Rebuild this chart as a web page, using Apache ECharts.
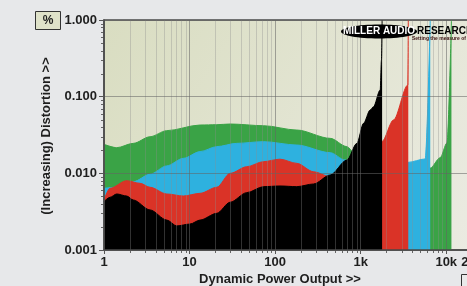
<!DOCTYPE html>
<html>
<head>
<meta charset="utf-8">
<script src="https://cdn.jsdelivr.net/npm/echarts@6/dist/echarts.min.js"></script>
<style>
  html, body { margin: 0; padding: 0; background: #e7e8ea; }
  #main { width: 467px; height: 286px; }
</style>
</head>
<body>
<div id="main"></div>
<script>
// [power (W), distortion (%)]
var greenData = [[1, 0.0239], [1.41, 0.0216], [2.2, 0.0246], [3.45, 0.030], [5.41, 0.0360], [13.3, 0.0427],
	[20.8, 0.0431], [29.8, 0.0440], [73, 0.0418], [179, 0.0367], [440, 0.0286], [690, 0.0223], [817, 0.0192],
	[1200, 0.015], [2500, 0.012], [6500, 0.0117], [8500, 0.016], [10200, 0.0249], [11500, 1.0]];
var cyanData = [[1, 0.00638], [1.41, 0.00658], [2.2, 0.00778], [3.45, 0.00972], [5.41, 0.0125], [8.46, 0.0157],
	[13.3, 0.0192], [20.8, 0.0223], [35.6, 0.0246], [73, 0.0259], [179, 0.0234], [440, 0.0186], [659, 0.0149],
	[1000, 0.013], [2000, 0.0125], [3560, 0.0139], [5680, 0.0154], [6500, 1.0]];
var redData = [[1, 0.00449], [1.175, 0.00638], [1.84, 0.00802], [2.64, 0.00741], [3.45, 0.00658], [5.41, 0.00538],
	[8.46, 0.00506], [13.3, 0.00549], [20.8, 0.00658], [29.8, 0.0100], [46.7, 0.0122], [73, 0.0142], [114, 0.0153],
	[179, 0.0135], [281, 0.0105], [440, 0.00904], [700, 0.011], [1200, 0.018], [1770, 0.0259], [2420, 0.0497],
	[3560, 0.142], [3600, 1.0]];
var blackData = [[1, 0.00427], [1.175, 0.00487], [1.41, 0.00538], [1.84, 0.00506], [2.2, 0.00449], [3.45, 0.00333],
	[5.41, 0.00246], [7.08, 0.00206], [10.1, 0.00218], [13.3, 0.00246], [20.8, 0.00301], [29.8, 0.0042],
	[46.7, 0.0056], [73, 0.0067], [114, 0.00684], [179, 0.0067], [281, 0.00726], [440, 0.00951], [690, 0.0149],
	[903, 0.0246], [1079, 0.0449], [1291, 0.067], [1412, 0.074], [1690, 0.1222], [1750, 0.30], [1780, 1.0]];

var xMinorTicks = [2, 3, 4, 5, 6, 7, 8, 9, 20, 30, 40, 50, 60, 70, 80, 90, 200, 300, 400, 500, 600, 700, 800, 900,
	2000, 3000, 4000, 5000, 6000, 7000, 8000, 9000];
var yMinorTicks = [0.002, 0.003, 0.004, 0.005, 0.006, 0.007, 0.008, 0.009, 0.02, 0.03, 0.04, 0.05, 0.06, 0.07,
	0.08, 0.09, 0.2, 0.3, 0.4, 0.5, 0.6, 0.7, 0.8, 0.9];
var xLabels = { 1: '1', 10: '10', 100: '100', 1000: '1k', 10000: '10k', 20000: '20k' };

var myCharts = echarts.init(document.getElementById('main'));
var FONT = 'Liberation Sans';

// each area gets its own z so its outline never pokes through the next area
function areaSeries(name, data, color, z) {
	return {
		name: name, type: 'line', data: data, smooth: 0.3, smoothMonotone: 'x',
		showSymbol: false, symbol: 'none', z: z,
		lineStyle: { color: color, width: 1 },
		areaStyle: { color: color, opacity: 1, origin: 'start' }
	};
}

var option = {
	backgroundColor: '#e7e8ea',
	animation: false,
	grid: {
		left: 104, top: 20, width: 368, height: 230,
		outerBoundsMode: 'none', containLabel: false,
		show: true, borderColor: '#4a4a4a', borderWidth: 1.5,
		backgroundColor: new echarts.graphic.LinearGradient(0, 0, 1, 1, [
			{ offset: 0, color: '#d9ddc1' }, { offset: 1, color: '#ebebe2' }])
	},
	xAxis: {
		type: 'log', logBase: 10, min: 1, max: 20000, z: 20,
		axisLine: { lineStyle: { color: '#4a4a4a', width: 1.5 } },
		axisTick: { show: true, length: 4, lineStyle: { color: '#555' } },
		splitLine: { show: true, lineStyle: { color: 'rgba(100,100,100,0.55)', width: 1 } },
		axisLabel: {
			margin: 6, color: '#1e1e1e', fontFamily: FONT, fontWeight: 'bold', fontSize: 13,
			formatter: function (v) { return xLabels[Math.round(v)] || ''; }
		}
	},
	yAxis: {
		type: 'log', logBase: 10, min: 0.001, max: 1, z: 20,
		axisLine: { lineStyle: { color: '#4a4a4a', width: 1.5 } },
		axisTick: { show: true, length: 5, lineStyle: { color: '#555' } },
		splitLine: { show: true, lineStyle: { color: 'rgba(100,100,100,0.55)', width: 1 } },
		axisLabel: {
			margin: 7, color: '#1e1e1e', fontFamily: FONT, fontWeight: 'bold', fontSize: 13,
			formatter: function (v) { return v.toFixed(3); }
		}
	},
	series: [
		areaSeries('green', greenData, '#3aa346', 2),
		areaSeries('cyan', cyanData, '#2eb1df', 3),
		areaSeries('red', redData, '#da3327', 4),
		areaSeries('black', blackData, '#000000', 5),
		{
			// log minor grid lines + ticks on x
			type: 'custom', z: 10, silent: true,
			data: xMinorTicks.map(function (v) { return [v, 1]; }),
			renderItem: function (params, api) {
				var cs = params.coordSys;
				var x = Math.round(api.coord([api.value(0), 1])[0]) + 0.5;
				return {
					type: 'group', children: [
						{ type: 'line', shape: { x1: x, y1: cs.y, x2: x, y2: cs.y + cs.height },
							style: { stroke: 'rgba(140,140,140,0.35)', lineWidth: 1 } },
						{ type: 'line', shape: { x1: x, y1: cs.y + cs.height, x2: x, y2: cs.y + cs.height + 3 },
							style: { stroke: '#666', lineWidth: 1 } }
					]
				};
			}
		},
		{
			// log minor ticks on y
			type: 'custom', z: 10, silent: true,
			data: yMinorTicks.map(function (v) { return [1, v]; }),
			renderItem: function (params, api) {
				var cs = params.coordSys;
				var y = Math.round(api.coord([1, api.value(1)])[1]) + 0.5;
				return { type: 'line', shape: { x1: cs.x - 3, y1: y, x2: cs.x, y2: y },
					style: { stroke: '#666', lineWidth: 1 } };
			}
		}
	],
	graphic: [
		{ type: 'rect', shape: { x: 35.5, y: 11.5, width: 25, height: 18 },
			style: { fill: '#dfe2c9', stroke: '#333', lineWidth: 1 } },
		{ type: 'text', x: 48, y: 20.5, style: { text: '%', fill: '#222', font: 'bold 12px "Liberation Sans"',
			textAlign: 'center', textVerticalAlign: 'middle' } },
		{ type: 'text', x: 46, y: 136, rotation: Math.PI / 2,
			style: { text: '(Increasing) Distortion >>', fill: '#1e1e1e', font: 'bold 13px "Liberation Sans"',
				textAlign: 'center', textVerticalAlign: 'middle' } },
		{ type: 'text', x: 280, y: 279, style: { text: 'Dynamic Power Output >>', fill: '#1e1e1e',
			font: 'bold 13px "Liberation Sans"', textAlign: 'center', textVerticalAlign: 'middle' } },
		{ type: 'ellipse', z: 30, shape: { cx: 379, cy: 31.5, rx: 38, ry: 7 }, style: { fill: '#000' } },
		{ type: 'text', z: 31, x: 379, y: 31.5, style: { text: 'MILLER AUDIO', fill: '#fff',
			font: 'bold 10px "Liberation Sans"', textAlign: 'center', textVerticalAlign: 'middle' } },
		{ type: 'text', z: 31, x: 417, y: 31, style: { text: 'RESEARCH', fill: '#000',
			font: 'bold 10px "Liberation Sans"', textAlign: 'left', textVerticalAlign: 'middle' } },
		{ type: 'text', z: 31, x: 412, y: 39, style: { text: 'Setting the measure of sound quality', fill: '#3a1010',
			font: 'bold 5px "Liberation Sans"', textAlign: 'left', textVerticalAlign: 'middle' } },
		{ type: 'rect', shape: { x: 461.5, y: 274.5, width: 20, height: 20 },
			style: { fill: '#e9e9e9', stroke: '#333', lineWidth: 1 } }
	]
};
myCharts.setOption(option);
</script>
</body>
</html>
